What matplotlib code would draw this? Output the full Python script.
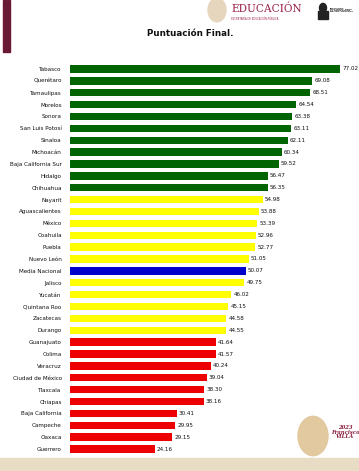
import matplotlib
matplotlib.use("Agg")
import matplotlib.pyplot as plt
from matplotlib.patches import Rectangle, Circle

states = ["Tabasco", "Querétaro", "Tamaulipas", "Morelos", "Sonora", "San Luis Potosí",
          "Sinaloa", "Michoacán", "Baja California Sur", "Hidalgo", "Chihuahua",
          "Nayarit", "Aguascalientes", "México", "Coahuila", "Puebla", "Nuevo León",
          "Media Nacional", "Jalisco", "Yucatán", "Quintana Roo", "Zacatecas", "Durango",
          "Guanajuato", "Colima", "Veracruz", "Ciudad de México", "Tlaxcala", "Chiapas",
          "Baja California", "Campeche", "Oaxaca", "Guerrero"]
values = [77.02, 69.08, 68.51, 64.54, 63.38, 63.11, 62.11, 60.34, 59.52, 56.47, 56.35,
          54.98, 53.88, 53.39, 52.96, 52.77, 51.05,
          50.07, 49.75, 46.02, 45.15, 44.58, 44.55,
          41.64, 41.57, 40.24, 39.04, 38.30, 38.16, 30.41, 29.95, 29.15, 24.16]
tiers = (["alto"] * 11 + ["medio"] * 6 + ["media"] + ["medio"] * 5 + ["bajo"] * 10)
tier_colors = {"alto": "#006400", "medio": "#ffff00", "media": "#0000cc", "bajo": "#ee0000"}

W, H = 359, 471
fig = plt.figure(figsize=(W / 100, H / 100), dpi=100)
fig.patch.set_facecolor("white")

# decorations (figure coordinates)
fig.patches.append(Rectangle((3 / W, 1 - 52 / H), 7 / W, 52 / H, transform=fig.transFigure,
                             color="#6b1a35", zorder=0))
fig.patches.append(Rectangle((0, 0), 1, 13 / H, transform=fig.transFigure,
                             color="#e9dcc4", zorder=0))
fig.patches.append(Circle((217 / W, 1 - 10 / H), 9 / W, transform=fig.transFigure,
                          color="#e6d6bd", zorder=0))
fig.text(231 / W, 1 - 9 / H, "EDUCACIÓN", fontsize=7.6, color="#9a2145",
         family=["DejaVu Serif"], va="center", ha="left")
fig.text(231 / W, 1 - 19 / H, "SECRETARÍA DE EDUCACIÓN PÚBLICA", fontsize=1.8,
         color="#9a2145", va="center", ha="left")
fig.text(330 / W, 1 - 10 / H, "INSTITUTO\nNACIONAL PARA\nLA EDUCACIÓN\nDE LOS ADULTOS",
         fontsize=1.7, color="#222222", weight="bold", va="center", ha="left", linespacing=1.0)
fig.patches.append(Circle((323 / W, 1 - 8 / H), 3.5 / W, transform=fig.transFigure,
                          color="#222222", zorder=0))
fig.patches.append(Rectangle((318 / W, 1 - 19 / H), 10 / W, 8 / H, transform=fig.transFigure,
                             color="#222222", zorder=0))
fig.patches.append(Circle((313 / W, 1 - 436 / H), 15 / W, transform=fig.transFigure,
                          color="#e2c9a0", zorder=0))
fig.text(345 / W, 1 - 432 / H, "2023\nFrancisco\nVILLA", fontsize=3.8, color="#8a1d3c",
         family=["DejaVu Serif"], weight="bold", style="italic", va="center", ha="center",
         linespacing=0.9)

fig.text(190 / W, 1 - 34 / H, "Puntuación Final.", fontsize=6.3, weight="bold",
         ha="center", va="center", color="#111111")

ax = fig.add_axes([70 / W, 16 / H, 287.5 / W, 392 / H])
ax.set_facecolor("none")
ypos = list(range(len(states)))
colors = [tier_colors[t] for t in tiers]
ax.barh(ypos, values, height=0.62, color=colors, zorder=2)
ax.set_xlim(0, 82)
ax.set_ylim(len(states) - 0.5, -0.5)
ax.set_yticks(ypos)
ax.set_yticklabels(states, fontsize=4.1, color="#111111")
ax.tick_params(axis="y", length=0, pad=6)
ax.set_xticks([])
for s in ax.spines.values():
    s.set_visible(False)
for y, v in zip(ypos, values):
    ax.text(v + 0.6, y, f"{v:.2f}", fontsize=4.1, va="center", ha="left", color="#111111")

fig.savefig("out.png", dpi=100, facecolor="white")
